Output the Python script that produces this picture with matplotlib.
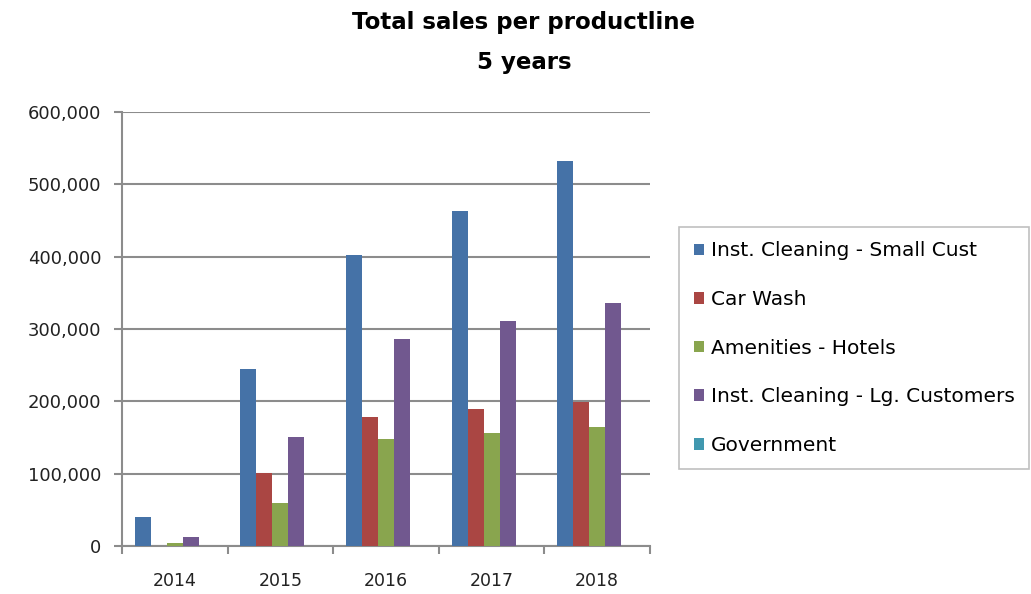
import numpy as np
import matplotlib.pyplot as plt
from matplotlib.ticker import FuncFormatter, FixedLocator

years = ['2014', '2015', '2016', '2017', '2018']
series_names = ['Inst. Cleaning - Small Cust', 'Car Wash', 'Amenities - Hotels',
                'Inst. Cleaning - Lg. Customers', 'Government']
small_cust = [40500, 244700, 402300, 463100, 532300]
car_wash = [0, 101000, 178800, 189800, 198700]
amenities = [4600, 59900, 147900, 156200, 165000]
lg_customers = [12400, 151100, 286200, 311100, 335900]
government = [0, 0, 0, 0, 0]
colors = ['#4572A7', '#AA4643', '#89A54E', '#71588F', '#4198AF']

plt.rcParams['font.family'] = 'DejaVu Sans'
fig = plt.figure(figsize=(10.31, 5.94), dpi=100)
ax = fig.add_axes([0.1183, 0.0808, 0.5122, 0.7306])

x = np.arange(len(years))
width = 0.1515
all_series = [small_cust, car_wash, amenities, lg_customers, government]
for i, (vals, name, c) in enumerate(zip(all_series, series_names, colors)):
    ax.bar(x + (i - 2) * width, vals, width, color=c, label=name, zorder=3)

ax.set_xlim(-0.5, 4.5)
ax.set_ylim(0, 600000)
ax.set_yticks(np.arange(0, 600001, 100000))
ax.yaxis.set_major_formatter(FuncFormatter(lambda v, p: f'{int(v):,}'))
ax.set_xticks(x)
ax.set_xticklabels(years)
ax.xaxis.set_minor_locator(FixedLocator(np.arange(-0.5, 4.6, 1)))
ax.tick_params(axis='x', which='major', length=0, labelsize=12.5, pad=19, colors='#222222')
ax.tick_params(axis='x', which='minor', length=6, width=1.5, color='#8c8c8c')
ax.tick_params(axis='y', length=6, width=1.5, color='#8c8c8c', labelsize=13, pad=9,
               labelcolor='#222222')
ax.grid(axis='y', color='#8c8c8c', linewidth=1.5, zorder=0)
for s in ['top', 'right']:
    ax.spines[s].set_visible(False)
for s in ['left', 'bottom']:
    ax.spines[s].set_color('#8c8c8c')
    ax.spines[s].set_linewidth(1.5)

fig.text(524 / 1031, 1 - 22 / 594, 'Total sales per productline', ha='center', va='center',
         fontsize=16.5, fontweight='bold')
fig.text(524 / 1031, 1 - 62 / 594, '5 years', ha='center', va='center',
         fontsize=16.5, fontweight='bold')

leg = fig.legend(loc='upper left', bbox_to_anchor=(679 / 1031, 1 - 227 / 594),
                 fontsize=14.5, frameon=True, fancybox=False, edgecolor='#b0b0b0',
                 handlelength=0.5, handleheight=0.5, handletextpad=0.35,
                 labelspacing=1.47, borderpad=0.72, borderaxespad=0)
leg.get_frame().set_linewidth(1.2)

fig.savefig('out.png', dpi=100)
